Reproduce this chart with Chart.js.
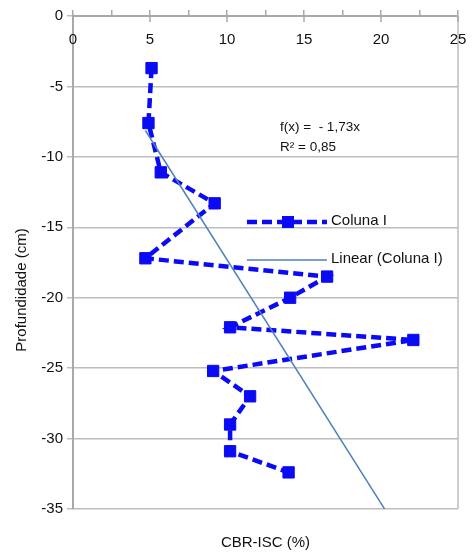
<!DOCTYPE html>
<html>
<head>
<meta charset="utf-8">
<script src="https://cdn.jsdelivr.net/npm/chart.js@4.4.0/dist/chart.umd.min.js"></script>
<style>
  html, body { margin: 0; padding: 0; background: #fff; }
  #wrap { width: 475px; height: 558px; }
</style>
</head>
<body>
<div id="wrap"><canvas id="chart"></canvas></div>
<script>
// CBR values (x) and depth (y)
let cbrValues = [5.1, 4.9, 5.7, 9.2, 4.7, 16.5, 14.1, 10.2, 22.1, 9.1, 11.5, 10.2, 10.2, 14.0];
let depthValues = [-3.7, -7.6, -11.1, -13.3, -17.2, -18.5, -20.0, -22.1, -23.0, -25.2, -27.0, -29.0, -30.9, -32.4];

// trend line f(x) = -1,73x, from min to max x
let trendX = [4.7, 22.1];
let trendY = [-8.13, -38.23];

let xTicks = [0, 5, 10, 15, 20, 25];

let seriesName = "Coluna I";
let trendName = "Linear (Coluna I)";
let equationText = ["f(x) =  - 1,73x", "R\u00b2 = 0,85"];
let xTitle = "CBR-ISC (%)";
let yTitle = "Profundidade (cm)";

let pointsMain = cbrValues.map((v, i) => ({ x: v, y: depthValues[i] }));
let pointsTrend = trendX.map((v, i) => ({ x: v, y: trendY[i] }));

const FONT = "'Liberation Sans', Arial, sans-serif";
const BLUE = "#0a0af5";
const TREND = "#4f81bd";
const GRID = "#bdbdbd";
const AXIS = "#a9a9a9";
const TEXT = "#111";

Chart.defaults.font.family = FONT;
Chart.defaults.font.size = 15;
Chart.defaults.color = TEXT;

const extras = {
  id: "extras",
  afterDraw(chart) {
    let ctx = chart.ctx;
    let xs = chart.scales.x;
    let area = chart.chartArea;
    ctx.save();

    // right frame line
    ctx.strokeStyle = GRID;
    ctx.lineWidth = 1.5;
    ctx.beginPath();
    ctx.moveTo(area.right, area.top);
    ctx.lineTo(area.right, area.bottom);
    ctx.stroke();

    // major x tick marks crossing the axis, and labels below
    ctx.strokeStyle = AXIS;
    ctx.lineWidth = 1.5;
    ctx.fillStyle = TEXT;
    ctx.font = "15px " + FONT;
    ctx.textAlign = "center";
    ctx.textBaseline = "middle";
    xTicks.forEach(t => {
      let px = xs.getPixelForValue(t);
      ctx.beginPath();
      ctx.moveTo(px, area.top);
      ctx.lineTo(px, area.top + 6);
      ctx.stroke();
      ctx.fillText(String(t), px, area.top + 24);
    });

    // x title at the bottom
    ctx.fillText(xTitle, (area.left + area.right) / 2, 543);

    // y title
    ctx.save();
    ctx.translate(22, 290);
    ctx.rotate(-Math.PI / 2);
    ctx.fillText(yTitle, 0, 0);
    ctx.restore();

    // equation
    ctx.textAlign = "left";
    ctx.font = "13.5px " + FONT;
    ctx.fillText(equationText[0], 280, 127);
    ctx.fillText(equationText[1], 280, 147);

    // legend
    ctx.font = "15px " + FONT;
    ctx.strokeStyle = BLUE;
    ctx.lineWidth = 4.5;
    ctx.setLineDash([10, 5]);
    ctx.beginPath();
    ctx.moveTo(247, 222);
    ctx.lineTo(327, 222);
    ctx.stroke();
    ctx.setLineDash([]);
    ctx.fillStyle = BLUE;
    ctx.fillRect(282, 216, 12, 12);
    ctx.fillStyle = TEXT;
    ctx.fillText(seriesName, 331, 221);

    ctx.strokeStyle = TREND;
    ctx.lineWidth = 1.5;
    ctx.beginPath();
    ctx.moveTo(247, 260);
    ctx.lineTo(327, 260);
    ctx.stroke();
    ctx.fillText(trendName, 331, 259);

    ctx.restore();
  }
};

let ctxChart = new Chart(document.getElementById("chart"), {
  type: "scatter",
  data: {
    datasets: [
      {
        label: trendName,
        data: pointsTrend,
        showLine: true,
        borderColor: TREND,
        borderWidth: 1.5,
        pointRadius: 0,
      },
      {
        label: seriesName,
        data: pointsMain,
        showLine: true,
        borderColor: BLUE,
        backgroundColor: BLUE,
        borderWidth: 4.5,
        borderDash: [10, 5],
        pointStyle: "rect",
        pointRadius: 8,
        pointBorderWidth: 1,
        pointBorderColor: BLUE,
        pointBackgroundColor: BLUE,
      },
    ],
  },
  options: {
    responsive: true,
    maintainAspectRatio: false,
    animation: false,
    layout: { padding: { left: 0, right: 17, top: 10, bottom: 49 } },
    plugins: {
      legend: { display: false },
      tooltip: { enabled: false },
    },
    scales: {
      x: {
        type: "linear",
        position: "top",
        min: 0,
        max: 25,
        afterFit(scale) { scale.height = 6; },
        ticks: { display: false, stepSize: 2.5 },
        grid: { drawOnChartArea: false, color: AXIS, lineWidth: 1.5, tickLength: 6 },
        border: { display: true, color: AXIS, width: 2 },
      },
      y: {
        type: "linear",
        min: -35,
        max: 0,
        afterFit(scale) { scale.width = 73; },
        ticks: { stepSize: 5, padding: 4, font: { size: 15 } },
        grid: { color: GRID, lineWidth: 1.5, tickLength: 6 },
        border: { display: true, color: AXIS, width: 2 },
      },
    },
  },
  plugins: [extras],
});
</script>
</body>
</html>
